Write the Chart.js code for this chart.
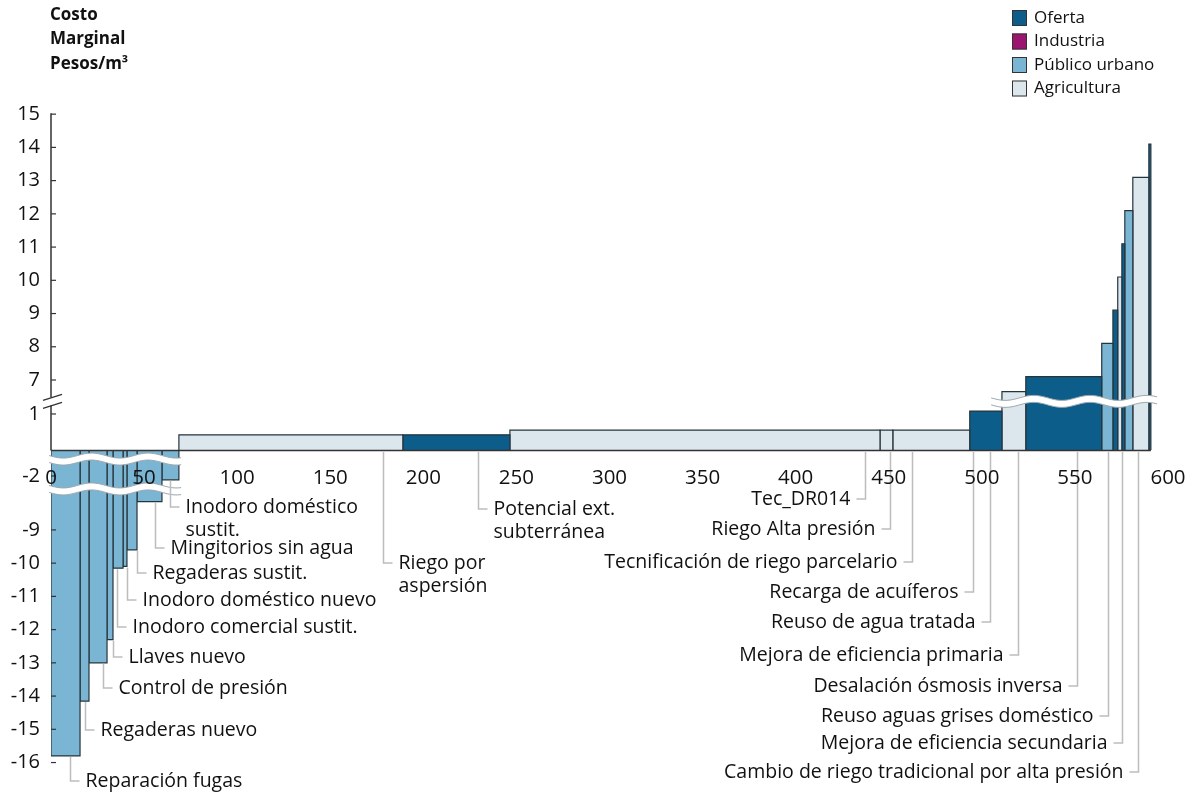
<!DOCTYPE html>
<html>
<head>
<meta charset="utf-8">
<script src="https://cdn.jsdelivr.net/npm/chart.js@4.4.1/dist/chart.umd.min.js"></script>
<style>
  html, body { margin: 0; background: #fff; }
  #wrap { width: 1187px; height: 792px; }
</style>
</head>
<body>
<div id="wrap"><canvas id="grafica"></canvas></div>
<script>
// --- Datos (curva de costo marginal) ---
const sectores = ['Oferta', 'Industria', 'Público urbano', 'Agricultura'];
const barInicio = [0, 15.6, 20.4, 30.1, 33.3, 38.7, 40.8, 46.2, 59.6,
  68.7, 189.0, 246.5, 445.3, 452.2, 493.5, 510.8, 523.6, 564.4, 570.4, 573.0, 575.2, 576.8, 581.1, 589.7];
const barFin = [15.6, 20.4, 30.1, 33.3, 38.7, 40.8, 46.2, 59.6, 68.7,
  189.0, 246.5, 445.3, 452.2, 493.5, 510.8, 523.6, 564.4, 570.4, 573.0, 575.2, 576.8, 581.1, 589.7, 590.8];
const barCosto = [-15.8, -14.15, -13.0, -12.3, -10.15, -10.1, -9.6, -8.15, -2.3,
  0.42, 0.42, 0.55, 0.55, 0.55, 1.08, 6.65, 7.1, 8.1, 9.1, 10.1, 11.1, 12.1, 13.1, 14.1];
const barSector = [2, 2, 2, 2, 2, 2, 2, 2, 2,
  3, 0, 3, 3, 3, 0, 3, 0, 2, 0, 3, 0, 2, 3, 0];
const yTicks = [15, 14, 13, 12, 11, 10, 9, 8, 7, 1, -2, -9, -10, -11, -12, -13, -14, -15, -16];

// etiquetas: texto, x (en unidades del eje), y del texto (px), lado del texto
const callouts = [
  ['Reparación fugas', 10.2, 781, 'r'],
  ['Regaderas nuevo', 18.3, 730, 'r'],
  ['Control de presión', 27.9, 688, 'r'],
  ['Llaves nuevo', 33.3, 657, 'r'],
  ['Inodoro comercial sustit.', 35.4, 627, 'r'],
  ['Inodoro doméstico nuevo', 40.8, 600, 'r'],
  ['Regaderas sustit.', 46.2, 573, 'r'],
  ['Mingitorios sin agua', 55.9, 548, 'r'],
  ['Inodoro doméstico\nsustit.', 63.9, 507, 'r'],
  ['Riego por\naspersión', 178.3, 563, 'r'],
  ['Potencial ext.\nsubterránea', 229.3, 509, 'r'],
  ['Tec_DR014', 437.2, 499, 'l'],
  ['Riego Alta presión', 450.6, 529, 'l'],
  ['Tecnificación de riego parcelario', 462.4, 562, 'l'],
  ['Recarga de acuíferos', 495.2, 592, 'l'],
  ['Reuso de agua tratada', 504.3, 622, 'l'],
  ['Mejora de eficiencia primaria', 519.3, 655, 'l'],
  ['Desalación ósmosis inversa', 551.0, 686, 'l'],
  ['Reuso aguas grises doméstico', 567.7, 716, 'l'],
  ['Mejora de eficiencia secundaria', 575.2, 743, 'l'],
  ['Cambio de riego tradicional por alta presión', 583.8, 772, 'l']
];

const colores = ['#0d5d8b', '#9b1470', '#7ab6d3', '#dce6ed'];
const FUENTE = "'Open Sans', 'Noto Sans', sans-serif";

// eje Y cortado: cada tramo es lineal (unidad ~ 33 px)
function toDisp(v) {
  if (v >= 4) return v - 4.895;
  if (v >= 0) return v * 1.083;
  if (v >= -4) return v * 0.391;
  return v + 6.594;
}
// cortes ondulados: valor donde va la onda, y tramo en x
const cortes = [
  { v: 1.35, x0: 505, x1: 595 },
  { v: -0.7, x0: -1, x1: 70 },
  { v: -3.0, x0: -1, x1: 70 }
];

const datasets = barCosto.map((c, i) => {
  const d = toDisp(c);
  return {
    label: sectores[barSector[i]],
    data: [{ x: barInicio[i], y: 0 }, { x: barInicio[i], y: d }, { x: barFin[i], y: d }, { x: barFin[i], y: 0 }],
    backgroundColor: colores[barSector[i]],
    borderColor: '#26343c',
    borderWidth: 1.2,
    borderJoinStyle: 'miter',
    fill: 'origin',
    pointRadius: 0,
    tension: 0
  };
});

function onda(ctx, xa, xb, yc) {
  ctx.beginPath();
  for (let x = xa; x <= xb; x += 2) {
    const y = yc + 2.5 * Math.sin((x - xa) / 9);
    if (x === xa) ctx.moveTo(x, y); else ctx.lineTo(x, y);
  }
  ctx.stroke();
}

const cortesPlugin = {
  id: 'cortes',
  afterDatasetsDraw(chart) {
    const { ctx, scales: { x, y } } = chart;
    ctx.save();
    cortes.forEach(c => {
      const yc = y.getPixelForValue(toDisp(c.v));
      const xa = x.getPixelForValue(c.x0), xb = x.getPixelForValue(c.x1);
      ctx.strokeStyle = '#fff'; ctx.lineWidth = 7;
      onda(ctx, xa, xb, yc);
      ctx.strokeStyle = '#9aa6ad'; ctx.lineWidth = 1;
      onda(ctx, xa, xb, yc - 3.5);
      onda(ctx, xa, xb, yc + 3.5);
    });
    ctx.restore();
  }
};

// línea base, eje Y con su corte y marcas hacia dentro
const ejePlugin = {
  id: 'eje',
  afterDatasetsDraw(chart) {
    const { ctx, scales: { x, y } } = chart;
    const x0 = x.getPixelForValue(0);
    const y0 = Math.round(y.getPixelForValue(0)) + 0.5;
    const yCorte = y.getPixelForValue(toDisp(1.35));
    ctx.save();
    ctx.strokeStyle = '#333'; ctx.lineWidth = 1.5;
    ctx.beginPath();
    ctx.moveTo(x0, y0); ctx.lineTo(x.getPixelForValue(barFin[barFin.length - 1]), y0);
    ctx.moveTo(x0, y.getPixelForValue(toDisp(15)) - 1); ctx.lineTo(x0, yCorte - 4);
    ctx.moveTo(x0, yCorte + 4); ctx.lineTo(x0, y0);
    ctx.stroke();
    ctx.lineWidth = 1.3;
    ctx.beginPath();
    ctx.moveTo(x0 - 8, yCorte - 1); ctx.lineTo(x0 + 11, yCorte - 7);
    ctx.moveTo(x0 - 8, yCorte + 7); ctx.lineTo(x0 + 11, yCorte + 1);
    ctx.stroke();
    ctx.lineWidth = 1.2;
    yTicks.forEach(v => {
      const py = y.getPixelForValue(toDisp(v));
      ctx.beginPath(); ctx.moveTo(x0, py); ctx.lineTo(x0 + 5, py); ctx.stroke();
    });
    ctx.restore();
  }
};

const calloutPlugin = {
  id: 'callouts',
  afterDatasetsDraw(chart) {
    const { ctx, scales: { x, y } } = chart;
    ctx.save();
    ctx.font = '19.5px ' + FUENTE;
    ctx.textBaseline = 'middle';
    callouts.forEach(([txt, ax, ly, lado]) => {
      const px = Math.round(x.getPixelForValue(ax)) + 0.5;
      const k = barInicio.findIndex((s, i) => ax >= s && ax <= barFin[i]);
      const y0 = (k >= 0 && barCosto[k] < 0) ? y.getPixelForValue(toDisp(barCosto[k])) + 1 : y.getPixelForValue(0) + 2;
      ctx.strokeStyle = '#bdbdbd'; ctx.lineWidth = 1.5;
      ctx.beginPath();
      ctx.moveTo(px, y0); ctx.lineTo(px, ly);
      ctx.lineTo(lado === 'r' ? px + 9 : px - 9, ly);
      ctx.stroke();
      ctx.fillStyle = '#111';
      ctx.textAlign = lado === 'r' ? 'left' : 'right';
      const tx = lado === 'r' ? px + 15 : px - 15;
      txt.split('\n').forEach((ln, j) => ctx.fillText(ln, tx, ly + j * 23));
    });
    ctx.restore();
  }
};

const tituloPlugin = {
  id: 'tituloLeyenda',
  afterDraw(chart) {
    const { ctx } = chart;
    ctx.save();
    ctx.textBaseline = 'middle';
    ctx.fillStyle = '#111';
    ctx.font = 'bold 17px ' + FUENTE;
    ['Costo', 'Marginal', 'Pesos/m³'].forEach((t, i) => ctx.fillText(t, 50, 15 + i * 24.5));
    ctx.font = '17px ' + FUENTE;
    sectores.forEach((s, i) => {
      const yc = 18 + i * 23.5;
      ctx.fillStyle = colores[i];
      ctx.fillRect(1012, yc - 8, 15, 16);
      ctx.strokeStyle = '#333'; ctx.lineWidth = 1;
      ctx.strokeRect(1012.5, yc - 7.5, 14, 15);
      ctx.fillStyle = '#111';
      ctx.fillText(s, 1034, yc);
    });
    ctx.restore();
  }
};

new Chart(document.getElementById('grafica'), {
  type: 'line',
  data: { datasets },
  options: {
    responsive: true,
    maintainAspectRatio: false,
    animation: false,
    layout: { padding: { top: 111, bottom: 28, left: 0, right: 19 } },
    plugins: { legend: { display: false }, tooltip: { enabled: false } },
    scales: {
      x: {
        type: 'linear', min: 0, max: 600,
        position: { y: 0 },
        grid: { display: false, drawTicks: false },
        border: { display: false },
        afterFit: s => { s.paddingLeft = 0; s.paddingRight = 0; },
        ticks: { stepSize: 50, padding: 16, z: 1, autoSkip: false, maxRotation: 0,
          color: '#111', font: { family: FUENTE, size: 20.5 } }
      },
      y: {
        type: 'linear', min: -9.45, max: 10.2,
        grid: { display: false, drawTicks: false },
        border: { display: false },
        afterBuildTicks: s => { s.ticks = yTicks.map(v => ({ value: toDisp(v) })); },
        afterFit: s => { s.width = 51; },
        ticks: { autoSkip: false, padding: 11, color: '#111', font: { family: FUENTE, size: 20 },
          callback: (v, i) => String(yTicks[i]) }
      }
    }
  },
  plugins: [cortesPlugin, ejePlugin, calloutPlugin, tituloPlugin]
});
</script>
</body>
</html>
